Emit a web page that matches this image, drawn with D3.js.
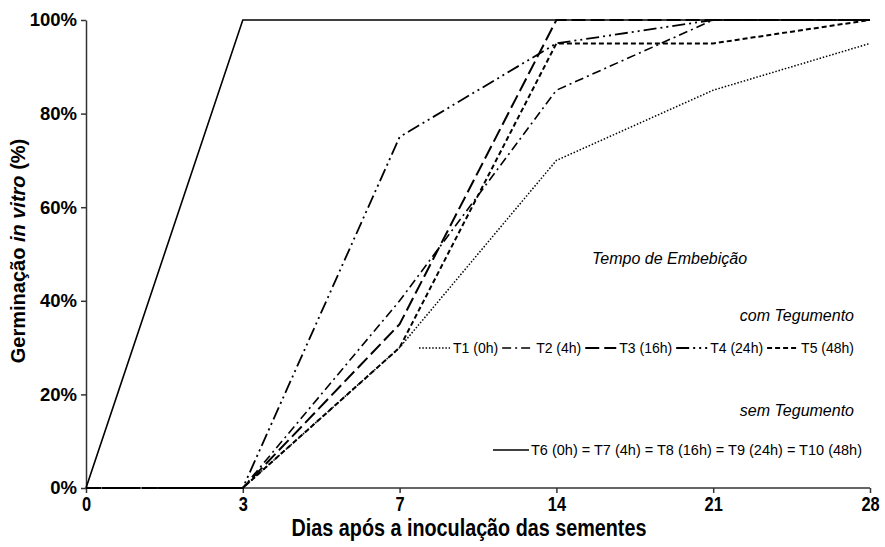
<!DOCTYPE html>
<html>
<head lang="pt">
	<meta charset="UTF-8">
	<title>Germinação in vitro</title>
	<style>
	body { margin: 0; background: #fff; }
	text { font-family: Arial, "Liberation Sans", sans-serif; fill: #000; }
	.axis path, .axis line { stroke: #333; stroke-width: 1.5; }
	.serie { fill: none; stroke: #000; }
	</style>
	<script src="https://cdn.jsdelivr.net/npm/d3@7"></script>
</head>
<body>
<script>
	// dias (eixo categórico, espaçamento igual)
	var days = ["0", "3", "7", "14", "21", "28"];
	var yTicks = [0, 20, 40, 60, 80, 100];

	// com tegumento
	var t1 = [0, 0, 30, 70, 85, 95];
	var t2 = [0, 0, 40, 85, 100, 100];
	var t3 = [0, 0, 35, 100, 100, 100];
	var t4 = [0, 0, 75, 95, 100, 100];
	var t5 = [0, 0, 30, 95, 95, 100];
	// sem tegumento (todos iguais)
	var t6to10 = [0, 100, 100, 100, 100, 100];

	var comLabels = ["T1 (0h)", "T2 (4h)", "T3 (16h)", "T4 (24h)", "T5 (48h)"];
	var semLabel = "T6 (0h) = T7 (4h) = T8 (16h) = T9 (24h) = T10 (48h)";

	var width = 885, height = 547;
	var margin = {top: 20, right: 15, bottom: 59, left: 86};

	var series = [
		{values: t1, dash: "1.5,1.8", w: 1.5},
		{values: t2, dash: "9,4,2,4", w: 1.6},
		{values: t3, dash: "14,5", w: 2},
		{values: t4, dash: "13,4,2,4,2,4", w: 1.8},
		{values: t5, dash: "5,3", w: 2},
		{values: t6to10, dash: null, w: 1.6}
	];

	var svg = d3.select("body").append("svg")
		.attr("width", width)
		.attr("height", height);

	var x = d3.scalePoint()
		.domain(days)
		.range([margin.left, width - margin.right]);

	var y = d3.scaleLinear()
		.domain([0, 100])
		.range([height - margin.bottom, margin.top]);

	// eixo y
	var yAxis = svg.append("g")
		.attr("class", "axis")
		.attr("transform", "translate(" + margin.left + ",0)")
		.call(d3.axisLeft(y).tickValues(yTicks).tickSize(5).tickSizeOuter(0)
			.tickFormat(function(d){ return d + "%"; }));
	yAxis.selectAll("text")
		.attr("x", -9)
		.style("font-size", "18.5px")
		.style("font-weight", "bold");

	// eixo x (rótulos estreitos: Arial comprimida na horizontal)
	var xAxis = svg.append("g")
		.attr("class", "axis")
		.attr("transform", "translate(0," + (height - margin.bottom) + ")")
		.call(d3.axisBottom(x).tickSize(5).tickSizeOuter(0));
	xAxis.selectAll("text")
		.attr("y", 9)
		.attr("transform", "scale(0.82,1)")
		.style("font-size", "20px")
		.style("font-weight", "bold");
	xAxis.select(".domain").attr("d", "M" + x.range()[0] + ",0H" + x.range()[1]);

	// títulos dos eixos
	svg.append("text")
		.attr("transform", "translate(469,536) scale(0.86,1)")
		.attr("text-anchor", "middle")
		.style("font-size", "23px")
		.style("font-weight", "bold")
		.text("Dias após a inoculação das sementes");

	var yt = svg.append("text")
		.attr("transform", "translate(25," + ((y.range()[0] + y.range()[1]) / 2 - 3) + ") rotate(-90)")
		.attr("text-anchor", "middle")
		.style("font-size", "20px")
		.style("font-weight", "bold");
	yt.append("tspan").text("Germinação ");
	yt.append("tspan").style("font-style", "italic").text("in vitro");
	yt.append("tspan").text(" (%)");

	// linhas
	var line = d3.line()
		.x(function(d, i){ return x(days[i]); })
		.y(function(d){ return y(d); });

	svg.selectAll("path.serie")
		.data(series)
		.enter().append("path")
		.attr("class", "serie")
		.attr("d", function(d){ return line(d.values); })
		.attr("stroke-width", function(d){ return d.w; })
		.attr("stroke-dasharray", function(d){ return d.dash; });

	// legenda
	var lg = svg.append("g").style("font-size", "14.5px");

	lg.append("text").attr("x", 592).attr("y", 264)
		.style("font-style", "italic").style("font-size", "16px").text("Tempo de Embebição");
	lg.append("text").attr("x", 854).attr("y", 321).attr("text-anchor", "end")
		.style("font-style", "italic").style("font-size", "16px").text("com Tegumento");
	lg.append("text").attr("x", 854).attr("y", 416).attr("text-anchor", "end")
		.style("font-style", "italic").style("font-size", "16px").text("sem Tegumento");

	// linha 1 da legenda: amostra + rótulo, em sequência
	var lx = 419, ly = 348;
	comLabels.forEach(function(lab, i){
		var s = series[i];
		lg.append("line")
			.attr("x1", lx).attr("x2", lx + 31)
			.attr("y1", ly).attr("y2", ly)
			.attr("stroke", "#000")
			.attr("stroke-width", s.w)
			.attr("stroke-dasharray", s.dash);
		var t = lg.append("text")
			.attr("x", lx + 34).attr("y", ly + 5)
			.style("font-size", "14px")
			.text(lab);
		lx += 34 + t.node().getComputedTextLength() + 4;
	});

	lg.append("line")
		.attr("x1", 493).attr("x2", 529)
		.attr("y1", 450).attr("y2", 450)
		.attr("stroke", "#000")
		.attr("stroke-width", series[5].w);
	lg.append("text").attr("x", 531).attr("y", 455).text(semLabel);
</script>
</body>
</html>
